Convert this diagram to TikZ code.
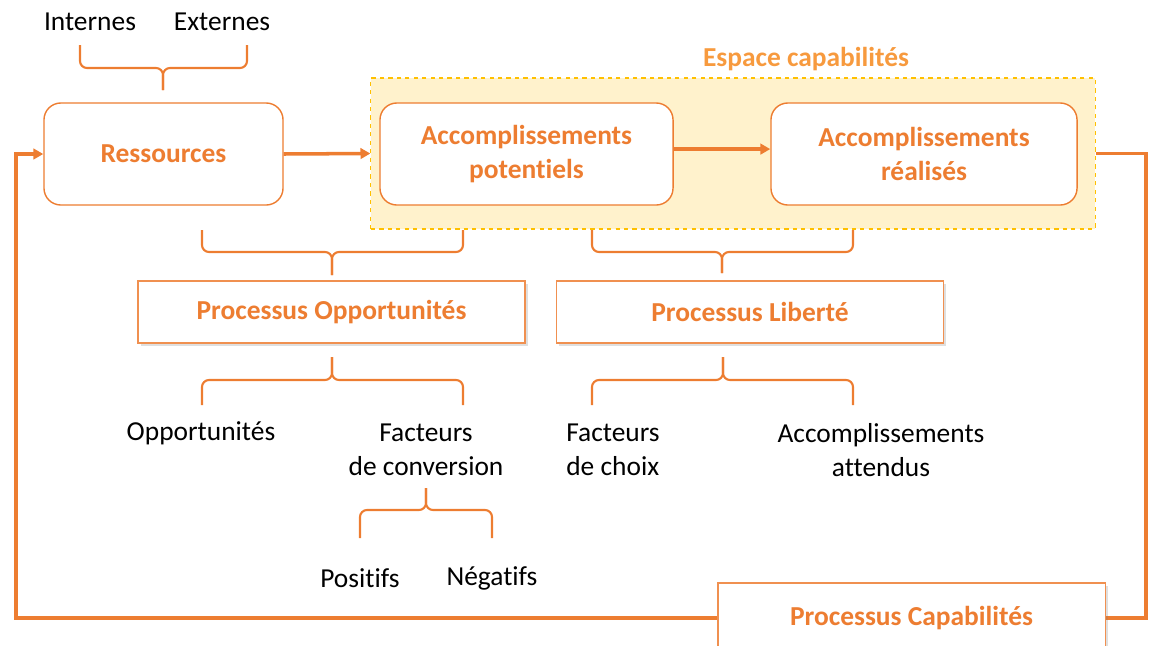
\documentclass[tikz,border=0pt]{standalone}
\usepackage{fontspec}
\setmainfont{Carlito}[Ligatures=NoCommon]
\usetikzlibrary{arrows.meta,shadows}
\definecolor{orangeacc}{HTML}{ED7D31}
\definecolor{orangeclair}{HTML}{F79A3E}
\definecolor{jauneb}{HTML}{FFC000}
\definecolor{jaunef}{HTML}{FFF2CC}

\begin{document}
\begin{tikzpicture}[x=0.025cm,y=-0.025cm,
  txt/.style={font=\fontsize{19.5}{24}\selectfont, align=center},
  titre/.style={txt, font=\fontsize{19.5}{24}\selectfont\bfseries, text=orangeacc},
  boite/.style={titre, draw=orangeacc, line width=1pt, fill=white, rounded corners=12pt, inner sep=0pt, minimum height=2.55cm},
  processus/.style={titre, draw=orangeacc!85, line width=0.8pt, fill=white, inner sep=0pt, minimum height=1.55cm, minimum width=9.675cm,
    drop shadow={shadow xshift=2pt, shadow yshift=-2pt, opacity=.25, fill=gray}},
  accolade/.style={orangeacc, line width=1.5pt, rounded corners=5pt},
  fleche/.style={orangeacc, line width=2.5pt, -{Triangle[length=7pt,width=7.5pt]}}
]
\useasboundingbox (0,0) rectangle (1149,645);

% espace capabilites
\node[draw=jauneb, dashed, fill=jaunef, line width=0.8pt, minimum width=18.1cm, minimum height=3.775cm, inner sep=0pt] (esp) at (733,153.5) {};
\node[titre, text=orangeclair] (lbl) at (806,59) {Espace capabilités};

\node[boite, minimum width=5.975cm] (res) at (163.5,154) {Ressources};
\node[boite, minimum width=7.325cm] (pot) at (526.5,154) {Accomplissements\\potentiels};
\node[boite, minimum width=7.65cm] (rea) at (924,154) {Accomplissements\\réalisés};

\node[processus] (opp) at (331.5,312) {Processus Opportunités};
\node[processus] (lib) at (750,312) {Processus Liberté};

\node[txt] (int) at (90,22) {Internes};
\node[txt] (ext) at (222,22) {Externes};
\node[txt] (oppt) at (201,433) {Opportunités};
\node[txt] (conv) at (426,450) {Facteurs\\de conversion};
\node[txt, align=left] (choix) at (613,450) {Facteurs\\de choix};
\node[txt] (att) at (881,450) {Accomplissements\\attendus};
\node[txt] (pos) at (360,578) {Positifs};
\node[txt] (neg) at (492,578) {Négatifs};

% accolades
\draw[accolade] (80,45) -- (80,68) -- (163,68) -- (163,90);
\draw[accolade] (247,45) -- (247,68) -- (163,68) -- (163,90);

\draw[accolade] (202,230) -- (202,252) -- (332,252) -- (332,275);
\draw[accolade] (463,230) -- (463,252) -- (332,252) -- (332,275);

\draw[accolade] (592,230) -- (592,252) -- (722,252) -- (722,273);
\draw[accolade] (853,230) -- (853,252) -- (722,252) -- (722,273);

\draw[accolade] (202,405) -- (202,380) -- (332,380) -- (332,357);
\draw[accolade] (463,405) -- (463,380) -- (332,380) -- (332,357);

\draw[accolade] (592,405) -- (592,380) -- (723,380) -- (723,357);
\draw[accolade] (853,405) -- (853,380) -- (723,380) -- (723,357);

\draw[accolade] (360,538) -- (360,510) -- (426,510) -- (426,488);
\draw[accolade] (492,538) -- (492,510) -- (426,510) -- (426,488);

% fleches
\draw[fleche] (res.east) -- (esp.west);
\draw[fleche] ([yshift=3.5pt]pot.east) -- ([yshift=3.5pt]rea.west);

\coordinate (rb) at (1146,618);
\coordinate (lb) at (16,618);
\draw[fleche] (esp.east) -| (rb) -- (lb) |- (res.west);

\node[processus, minimum height=1.75cm] (cap) at (911.5,618) {Processus Capabilités};

\end{tikzpicture}
\end{document}
